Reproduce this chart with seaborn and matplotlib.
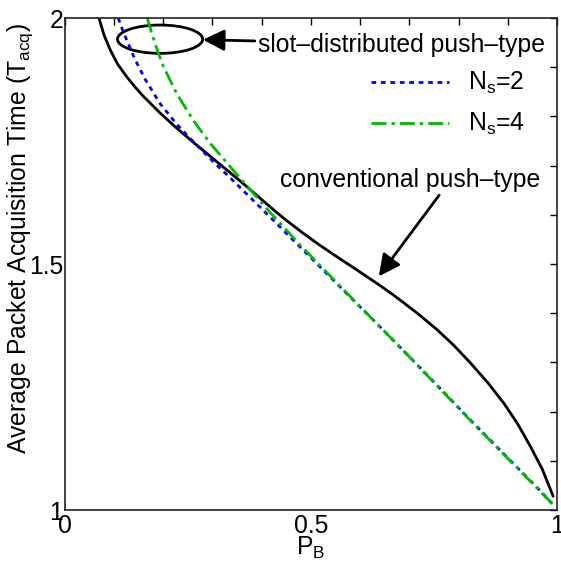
import numpy as np
import pandas as pd
import matplotlib
matplotlib.use("Agg")
import matplotlib.pyplot as plt
from matplotlib.patches import Ellipse
import seaborn as sns

# values
conv_x = [0.070, 0.080, 0.0925, 0.108, 0.126, 0.143, 0.160, 0.194, 0.228, 0.262,
          0.296, 0.320, 0.343, 0.367, 0.391, 0.420, 0.445, 0.480, 0.513, 0.545,
          0.580, 0.610, 0.641, 0.665, 0.689, 0.720, 0.757, 0.790, 0.824, 0.860,
          0.892, 0.920, 0.946, 0.970, 0.992]
conv_y = [2.000, 1.966, 1.936, 1.906, 1.881, 1.860, 1.841, 1.807, 1.776, 1.747,
          1.719, 1.699, 1.680, 1.660, 1.639, 1.614, 1.593, 1.566, 1.542, 1.520,
          1.497, 1.477, 1.456, 1.439, 1.421, 1.397, 1.366, 1.335, 1.299, 1.258,
          1.217, 1.175, 1.129, 1.083, 1.028]

ns2_x = [0.109, 0.117, 0.126, 0.143, 0.164, 0.194, 0.228, 0.262, 0.302, 0.347,
         0.431, 0.506, 0.574, 0.634, 0.689, 0.757, 0.824, 0.892, 0.960, 0.990]
ns2_y = [2.000, 1.978, 1.956, 1.916, 1.875, 1.826, 1.784, 1.748, 1.708, 1.665,
         1.582, 1.507, 1.439, 1.379, 1.323, 1.253, 1.183, 1.114, 1.045, 1.013]

ns4_x = [0.168, 0.178, 0.190, 0.201, 0.228, 0.262, 0.296, 0.343, 0.377, 0.411,
         0.445, 0.479, 0.546, 0.634, 0.689, 0.757, 0.824, 0.892, 0.960, 0.992]
ns4_y = [2.000, 1.966, 1.930, 1.901, 1.846, 1.791, 1.745, 1.690, 1.651, 1.612,
         1.575, 1.538, 1.469, 1.379, 1.323, 1.252, 1.182, 1.113, 1.044, 1.011]

tick_vals = [0.0, 0.1, 0.2, 0.3, 0.4, 0.5, 0.6, 0.7, 0.8, 0.9, 1.0]
xtick_labels = ['0', '', '', '', '', '0.5', '', '', '', '', '1']
ytick_vals = [1.0, 1.1, 1.2, 1.3, 1.4, 1.5, 1.6, 1.7, 1.8, 1.9, 2.0]
ytick_labels = ['1', '', '', '', '', '1.5', '', '', '', '', '2']

sns.set_theme(style="white")
plt.rcParams['font.family'] = ['Liberation Sans', 'DejaVu Sans']
plt.rcParams['mathtext.fontset'] = 'custom'
plt.rcParams['mathtext.rm'] = 'Liberation Sans'
plt.rcParams['mathtext.it'] = 'Liberation Sans'
plt.rcParams['text.color'] = 'black'
plt.rcParams['axes.labelcolor'] = 'black'
fs = 17.8

fig = plt.figure(figsize=(5.61, 5.62), dpi=100)
ax = fig.add_axes([0.115, 0.0925, 0.878, 0.8754])

conv = pd.DataFrame({'x': conv_x, 'y': conv_y})
ns2 = pd.DataFrame({'x': ns2_x, 'y': ns2_y})
ns4 = pd.DataFrame({'x': ns4_x, 'y': ns4_y})

sns.lineplot(data=conv, x='x', y='y', ax=ax, color='black', lw=2,
             estimator=None, sort=False)
sns.lineplot(data=ns2, x='x', y='y', ax=ax, color='#0000ff', lw=2,
             linestyle=(0, (1.7, 1.7)), estimator=None, sort=False)
sns.lineplot(data=ns4, x='x', y='y', ax=ax, color='#00bb00', lw=2,
             linestyle=(0, (5.4, 1.8, 1.2, 1.8)), estimator=None, sort=False)

ax.set_xlim(0, 1)
ax.set_ylim(1, 2)
ax.set_xticks(tick_vals)
ax.set_xticklabels(xtick_labels)
ax.set_yticks(ytick_vals)
ax.set_yticklabels(ytick_labels)
ax.tick_params(direction='in', length=5, width=1, top=True, right=True,
               labelsize=fs, colors='black')
ax.tick_params(axis='x', pad=3)
ax.tick_params(axis='y', pad=1)
for s in ax.spines.values():
    s.set_color('#222222')
    s.set_linewidth(1.2)

ax.set_xlabel(r'P$_\mathregular{B}$', fontsize=fs, labelpad=-2.5)
ax.set_ylabel(r'Average Packet Acquisition Time (T$_\mathregular{acq}$)', fontsize=fs)
ax.yaxis.set_label_coords(-0.06, 0.551)

# legend for the two slot-distributed curves
ax.legend(handles=[ax.lines[1], ax.lines[2]],
          labels=[r'N$_\mathregular{s}$=2', r'N$_\mathregular{s}$=4'],
          loc='upper left', bbox_to_anchor=(0.622, 0.894), frameon=False,
          fontsize=fs, handlelength=3.14, handletextpad=0.8, labelspacing=0.6,
          borderpad=0, borderaxespad=0)

# ellipse + annotations
ax.add_patch(Ellipse((0.194, 1.957), 0.173, 0.0576, fill=False, ec='black', lw=2))
arrow = dict(arrowstyle='-|>,head_length=0.5,head_width=0.25', color='black',
             lw=2, mutation_scale=26, shrinkA=0, shrinkB=0)
ax.annotate('slot–distributed push–type', xy=(0.281, 1.956), xytext=(0.393, 1.946),
            ha='left', va='center', fontsize=fs, arrowprops=arrow)
ax.annotate('conventional push–type', xy=(0.638, 1.475), xytext=(0.438, 1.671),
            ha='left', va='center', fontsize=fs,
            arrowprops=dict(arrow, relpos=(0.62, 0.0)))

fig.savefig('out.png', dpi=100)
